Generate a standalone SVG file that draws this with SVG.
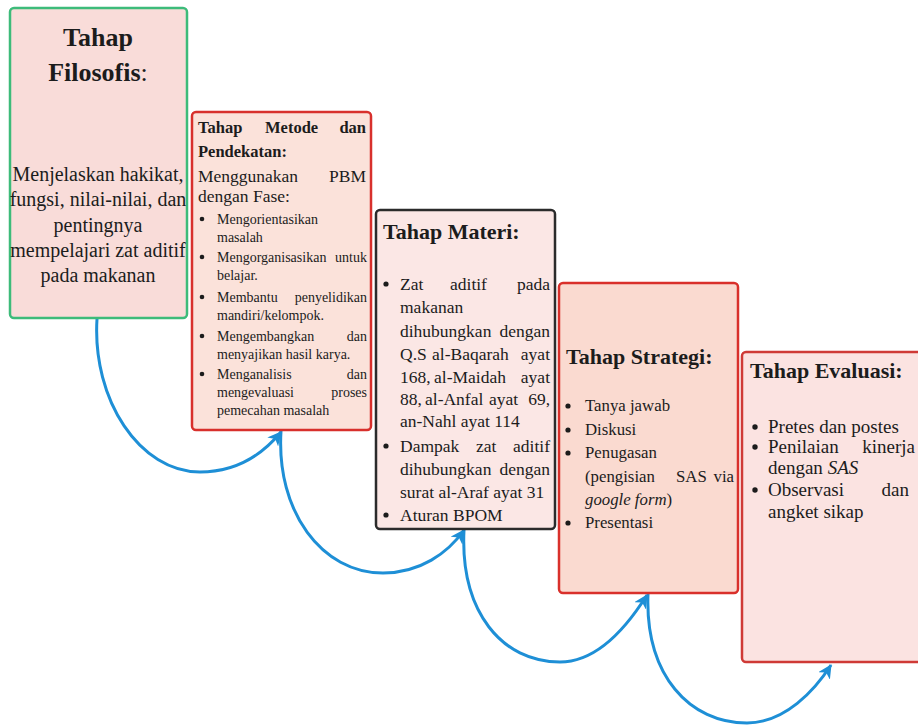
<svg xmlns="http://www.w3.org/2000/svg" width="918" height="726" viewBox="0 0 918 726" font-family="Liberation Serif">
<defs>
<style>
text{fill:#1c1c1c}
.b{font-weight:bold}
.t1{font-size:26px}
.b1{font-size:20px}
.t2{font-size:16.5px}
.m2{font-size:17.5px}
.s2{font-size:14px}
.t3{font-size:22px}
.s3{font-size:17.5px}
.s4{font-size:16.8px}
.s5{font-size:19px}
.bul{fill:#1c1c1c}
.arc{fill:none;stroke:#1e8fd6;stroke-width:3;marker-end:url(#ah)}
</style>
<marker id="ah" markerWidth="16" markerHeight="14" refX="13" refY="7" orient="auto" markerUnits="userSpaceOnUse"><path d="M0,0 L14,7 L0,14 L4,7 Z" fill="#1e8fd6"/></marker>
</defs>
<rect width="918" height="726" fill="#ffffff"/>

<g id="connectors">
<path class="arc" d="M97,319 C92,400 140,472 200,472 C236,472 262,455 281,432"/>
<path class="arc" d="M281,431 C276,512 322,573 383,573 C420,573 448,553 464,530"/>
<path class="arc" d="M464,530 C460,612 502,662 560,662 C600,662 630,622 647,595"/>
<path class="arc" d="M648,594 C645,676 690,723 747,723 C785,723 815,690 831,665"/>
</g>

<g id="filosofis" font-family="Liberation Serif">
<rect x="10" y="8" width="177" height="310" rx="4" fill="#f9dcd9" stroke="#3dbb7a" stroke-width="2.5"/>
<text class="b t1" x="98" y="46" text-anchor="middle">Tahap</text>
<text class="t1" x="98" y="81" text-anchor="middle"><tspan class="b">Filosofis</tspan>:</text>
<text class="b1" x="98" y="181" text-anchor="middle">Menjelaskan hakikat,</text>
<text class="b1" x="98" y="206" text-anchor="middle">fungsi, nilai-nilai, dan</text>
<text class="b1" x="98" y="232" text-anchor="middle">pentingnya</text>
<text class="b1" x="98" y="257" text-anchor="middle">mempelajari zat aditif</text>
<text class="b1" x="98" y="282" text-anchor="middle">pada makanan</text>
</g>

<g id="metode" font-family="Liberation Serif">
<rect x="192" y="112" width="179" height="318" rx="4" fill="#fbe2da" stroke="#d8302c" stroke-width="2.5"/>
<text class="b t2" x="198" y="133">Tahap</text>
<text class="b t2" x="265" y="133">Metode</text>
<text class="b t2" x="366" y="133" text-anchor="end">dan</text>
<text class="b t2" x="198" y="157">Pendekatan:</text>
<text class="m2" x="198" y="182">Menggunakan</text>
<text class="m2" x="366" y="182" text-anchor="end">PBM</text>
<text class="m2" x="198" y="202">dengan Fase:</text>
<circle class="bul" cx="202" cy="219" r="2.3"/>
<text class="s2" x="217" y="224">Mengorientasikan</text>
<text class="s2" x="217" y="242">masalah</text>
<circle class="bul" cx="202" cy="257" r="2.3"/>
<text class="s2" x="217" y="262">Mengorganisasikan</text>
<text class="s2" x="367" y="262" text-anchor="end">untuk</text>
<text class="s2" x="217" y="280">belajar.</text>
<circle class="bul" cx="202" cy="297" r="2.3"/>
<text class="s2" x="217" y="302">Membantu</text>
<text class="s2" x="367" y="302" text-anchor="end">penyelidikan</text>
<text class="s2" x="217" y="320">mandiri/kelompok.</text>
<circle class="bul" cx="202" cy="336" r="2.3"/>
<text class="s2" x="217" y="341">Mengembangkan</text>
<text class="s2" x="367" y="341" text-anchor="end">dan</text>
<text class="s2" x="217" y="359">menyajikan hasil karya.</text>
<circle class="bul" cx="202" cy="374" r="2.3"/>
<text class="s2" x="217" y="379">Menganalisis</text>
<text class="s2" x="367" y="379" text-anchor="end">dan</text>
<text class="s2" x="217" y="397">mengevaluasi</text>
<text class="s2" x="367" y="397" text-anchor="end">proses</text>
<text class="s2" x="217" y="415">pemecahan masalah</text>
</g>

<g id="materi" font-family="Liberation Serif">
<rect x="376" y="210" width="179" height="319" rx="4" fill="#fbe7e5" stroke="#2b2b2b" stroke-width="2.5"/>
<text class="b t3" x="383" y="239">Tahap Materi:</text>
<circle class="bul" cx="386" cy="284" r="2.6"/>
<text class="s3" x="400" y="290">Zat</text>
<text class="s3" x="450" y="290">aditif</text>
<text class="s3" x="550" y="290" text-anchor="end">pada</text>
<text class="s3" x="400" y="313">makanan</text>
<text class="s3" x="400" y="337">dihubungkan</text>
<text class="s3" x="550" y="337" text-anchor="end">dengan</text>
<text class="s3" x="400" y="360">Q.S</text>
<text class="s3" x="432" y="360">al-Baqarah</text>
<text class="s3" x="550" y="360" text-anchor="end">ayat</text>
<text class="s3" x="400" y="383">168,</text>
<text class="s3" x="434" y="383">al-Maidah</text>
<text class="s3" x="550" y="383" text-anchor="end">ayat</text>
<text class="s3" x="400" y="405">88,</text>
<text class="s3" x="425" y="405">al-Anfal</text>
<text class="s3" x="489" y="405">ayat</text>
<text class="s3" x="550" y="405" text-anchor="end">69,</text>
<text class="s3" x="400" y="427">an-Nahl ayat 114</text>
<circle class="bul" cx="386" cy="446" r="2.6"/>
<text class="s3" x="400" y="452">Dampak</text>
<text class="s3" x="476" y="452">zat</text>
<text class="s3" x="550" y="452" text-anchor="end">aditif</text>
<text class="s3" x="400" y="475">dihubungkan</text>
<text class="s3" x="550" y="475" text-anchor="end">dengan</text>
<text class="s3" x="400" y="498">surat al-Araf ayat 31</text>
<circle class="bul" cx="386" cy="515" r="2.6"/>
<text class="s3" x="400" y="521">Aturan BPOM</text>
</g>

<g id="strategi" font-family="Liberation Serif">
<rect x="559" y="283" width="179" height="310" rx="4" fill="#fadad0" stroke="#d9302b" stroke-width="2.5"/>
<text class="b t3" x="566" y="364">Tahap Strategi:</text>
<circle class="bul" cx="568" cy="406" r="2.6"/>
<text class="s4" x="585" y="411">Tanya jawab</text>
<circle class="bul" cx="568" cy="430" r="2.6"/>
<text class="s4" x="585" y="435">Diskusi</text>
<circle class="bul" cx="568" cy="453" r="2.6"/>
<text class="s4" x="585" y="458">Penugasan</text>
<text class="s4" x="585" y="482">(pengisian</text>
<text class="s4" x="676" y="482">SAS</text>
<text class="s4" x="734" y="482" text-anchor="end">via</text>
<text class="s4" x="585" y="505"><tspan font-style="italic">google form</tspan>)</text>
<circle class="bul" cx="568" cy="523" r="2.6"/>
<text class="s4" x="585" y="528">Presentasi</text>
</g>

<g id="evaluasi" font-family="Liberation Serif">
<rect x="742" y="352" width="190" height="310" rx="4" fill="#fbe3e1" stroke="#cf3a36" stroke-width="2.5"/>
<text class="b t3" x="750" y="378">Tahap Evaluasi:</text>
<circle class="bul" cx="755" cy="427" r="2.7"/>
<text class="s5" x="768" y="433">Pretes dan postes</text>
<circle class="bul" cx="755" cy="447" r="2.7"/>
<text class="s5" x="768" y="453">Penilaian</text>
<text class="s5" x="915" y="453" text-anchor="end">kinerja</text>
<text class="s5" x="768" y="474">dengan <tspan font-style="italic">SAS</tspan></text>
<circle class="bul" cx="755" cy="490" r="2.7"/>
<text class="s5" x="768" y="496">Observasi</text>
<text class="s5" x="909" y="496" text-anchor="end">dan</text>
<text class="s5" x="768" y="518">angket sikap</text>
</g>
</svg>
